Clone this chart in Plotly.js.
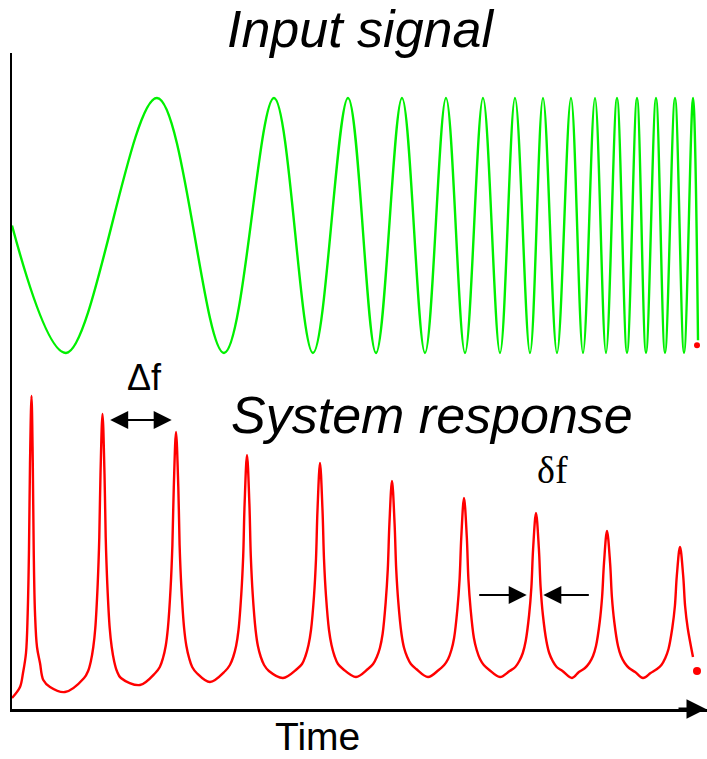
<!DOCTYPE html>
<html>
<head>
<meta charset="utf-8">
<script src="https://cdn.plot.ly/plotly-3.0.1.min.js"></script>
<style>html,body{margin:0;padding:0;background:#fff;}#chart{width:707px;height:759px;}</style>
</head>
<body>
<div id="chart"></div>
<script>
// ---- Input signal (chirp): extrema ----
var inputTime = [0, 5.4, 14.5, 21.2, 26.2, 30.1, 33.6, 36.4, 39.0, 41.3, 43.4, 45.3, 47.1, 48.8, 50.3, 51.8,
  53.1, 54.5, 55.9, 57.1, 58.3, 59.4, 60.5, 61.5, 62.5, 63.4, 64.4, 65.3, 66.3, 67.2, 68.1, 68.6];
var inputValue = [0, -1, 1, -1, 1, -1, 1, -1, 1, -1, 1, -1, 1, -1, 1, -1,
  1, -1, 1, -1, 1, -1, 1, -1, 1, -1, 1, -1, 1, -1, 1, -0.9];

// ---- System response: points ----
var responseTime = [
  0, 0.8, 1.1, 1.4, 1.57, 1.7, 1.8, 1.95, 2.08, 2.17, 2.3, 2.5, 2.8, 3.13, 3.8, 5.3,
  7.21, 7.61, 7.89, 8.13, 8.33, 8.57, 8.73, 8.85, 9.05, 9.25, 9.37, 9.53, 9.77, 9.97, 10.21, 10.49, 10.89, 12.8,
  14.33, 14.78, 15.1, 15.37, 15.59, 15.86, 16.04, 16.18, 16.4, 16.63, 16.76, 16.94, 17.21, 17.44, 17.71, 18.02, 18.47, 19.8,
  21.32, 21.79, 22.12, 22.41, 22.65, 22.93, 23.12, 23.26, 23.5, 23.74, 23.88, 24.07, 24.36, 24.59, 24.88, 25.21, 25.69, 27.1,
  28.5, 29.0, 29.35, 29.65, 29.9, 30.2, 30.4, 30.55, 30.8, 31.05, 31.2, 31.4, 31.7, 31.95, 32.25, 32.6, 33.1, 34.4,
  35.59, 36.11, 36.48, 36.79, 37.06, 37.37, 37.58, 37.74, 38.0, 38.26, 38.42, 38.63, 38.95, 39.21, 39.52, 39.89, 40.42, 41.6,
  42.67, 43.22, 43.61, 43.94, 44.21, 44.54, 44.76, 44.93, 45.2, 45.48, 45.64, 45.86, 46.19, 46.47, 46.8, 47.18, 47.73, 48.8,
  49.76, 50.33, 50.73, 51.08, 51.37, 51.71, 51.94, 52.11, 52.4, 52.69, 52.86, 53.09, 53.44, 53.72, 54.07, 54.47, 55.05, 56.0,
  56.69, 57.3, 57.73, 58.1, 58.4, 58.77, 59.01, 59.2, 59.5, 59.81, 59.99, 60.23, 60.6, 60.9, 61.27, 61.7, 62.31, 63.1,
  63.86, 64.5, 64.94, 65.33, 65.65, 66.03, 66.29, 66.48, 66.8, 67.12, 67.31, 67.57, 68.1];
var responseValue = [
  0.11, 0.22, 0.36, 0.56, 0.96, 1.6, 2.45, 3.13, 2.45, 1.6, 0.96, 0.62, 0.46, 0.29, 0.22, 0.17,
  0.31, 0.38, 0.48, 0.62, 0.81, 1.25, 1.72, 2.35, 2.95, 2.35, 1.72, 1.25, 0.81, 0.62, 0.48, 0.38, 0.31, 0.24,
  0.36, 0.42, 0.51, 0.63, 0.81, 1.21, 1.64, 2.22, 2.77, 2.22, 1.64, 1.21, 0.81, 0.63, 0.51, 0.42, 0.36, 0.27,
  0.38, 0.44, 0.52, 0.63, 0.79, 1.15, 1.53, 2.05, 2.54, 2.05, 1.53, 1.15, 0.79, 0.63, 0.52, 0.44, 0.38, 0.31,
  0.40, 0.45, 0.53, 0.64, 0.79, 1.13, 1.50, 1.99, 2.46, 1.99, 1.50, 1.13, 0.79, 0.64, 0.53, 0.45, 0.40, 0.32,
  0.40, 0.45, 0.52, 0.61, 0.75, 1.07, 1.40, 1.85, 2.28, 1.85, 1.40, 1.07, 0.75, 0.61, 0.52, 0.45, 0.40, 0.32,
  0.39, 0.44, 0.50, 0.59, 0.71, 1.00, 1.30, 1.72, 2.11, 1.72, 1.30, 1.00, 0.71, 0.59, 0.50, 0.44, 0.39, 0.32,
  0.38, 0.42, 0.48, 0.56, 0.68, 0.94, 1.22, 1.60, 1.96, 1.60, 1.22, 0.94, 0.68, 0.56, 0.48, 0.42, 0.38, 0.31,
  0.37, 0.41, 0.46, 0.53, 0.63, 0.87, 1.12, 1.46, 1.78, 1.46, 1.12, 0.87, 0.63, 0.53, 0.46, 0.41, 0.37, 0.31,
  0.36, 0.40, 0.44, 0.51, 0.60, 0.81, 1.03, 1.33, 1.62, 1.33, 1.03, 0.81, 0.52];

// ---- end dots ----
var endTime = [68.5];
var inputEnd = [-0.94];
var responseEnd = [0.38];

// ---- labels ----
var labelInput = 'Input signal';
var labelResponse = 'System response';
var labelTime = 'Time';
var labelDelta = '\u0394f';
var labelSmallDelta = '\u03B4f';

var sans = 'Liberation Sans, Arial, sans-serif';
var serif = 'Liberation Serif, Times New Roman, serif';

var traces = [
  {x: inputTime, y: inputValue, xaxis: 'x', yaxis: 'y2', mode: 'lines',
   line: {color: '#00f000', width: 2.4, shape: 'spline', smoothing: 1}, hoverinfo: 'skip'},
  {x: responseTime, y: responseValue, xaxis: 'x', yaxis: 'y', mode: 'lines',
   line: {color: '#ff0000', width: 2.4, shape: 'spline', smoothing: 1}, hoverinfo: 'skip'},
  {x: endTime, y: inputEnd, xaxis: 'x', yaxis: 'y2', mode: 'markers',
   marker: {color: '#ff0000', size: 6}, cliponaxis: false, hoverinfo: 'skip'},
  {x: endTime, y: responseEnd, xaxis: 'x', yaxis: 'y', mode: 'markers',
   marker: {color: '#ff0000', size: 8}, cliponaxis: false, hoverinfo: 'skip'}
];

var layout = {
  width: 707, height: 759,
  margin: {l: 12, r: 0, t: 53, b: 50, pad: 0},
  paper_bgcolor: '#ffffff', plot_bgcolor: '#ffffff',
  showlegend: false,
  xaxis: {range: [0, 69.5], showgrid: false, zeroline: false, showticklabels: false, ticks: '',
          showline: true, linecolor: '#000', linewidth: 3, anchor: 'y'},
  yaxis: {domain: [0, 0.5], range: [0, 3.28], showgrid: false, zeroline: false, showticklabels: false,
          ticks: '', showline: true, linecolor: '#000', linewidth: 2, anchor: 'x'},
  yaxis2: {domain: [0.5, 1], range: [-1.22, 1.353], showgrid: false, zeroline: false, showticklabels: false,
           ticks: '', showline: true, linecolor: '#000', linewidth: 2, anchor: 'x'},
  annotations: [
    {text: labelInput, xref: 'paper', yref: 'paper', x: 0.502, y: 1.036, xanchor: 'center', yanchor: 'middle',
     showarrow: false, font: {family: sans, size: 52, style: 'italic', color: '#000'}},
    {text: labelResponse, xref: 'paper', yref: 'paper', x: 0.604, y: 0.448, xanchor: 'center', yanchor: 'middle',
     showarrow: false, font: {family: sans, size: 52, style: 'italic', color: '#000'}},
    {text: labelTime, xref: 'paper', yref: 'paper', x: 0.4396, y: -0.0415, xanchor: 'center', yanchor: 'middle',
     showarrow: false, font: {family: sans, size: 39, color: '#000'}},
    {text: labelDelta, xref: 'paper', yref: 'paper', x: 0.19, y: 0.506, xanchor: 'center', yanchor: 'middle',
     showarrow: false, font: {family: sans, size: 36, color: '#000'}},
    {text: labelSmallDelta, xref: 'paper', yref: 'paper', x: 0.777, y: 0.364, xanchor: 'center', yanchor: 'middle',
     showarrow: false, font: {family: serif, size: 38, color: '#000'}},
    // Δf double arrow
    {text: '', xref: 'paper', yref: 'paper', x: 0.2298, y: 0.4405, ax: -63, ay: 0, axref: 'pixel', ayref: 'pixel',
     showarrow: true, arrowside: 'end+start', arrowhead: 2, startarrowhead: 2, arrowsize: 1.8, startarrowsize: 1.8,
     arrowwidth: 2, arrowcolor: '#000', standoff: 0, startstandoff: 0},
    // δf arrows
    {text: '', xref: 'paper', yref: 'paper', x: 0.7406, y: 0.1738, ax: -49, ay: 0, axref: 'pixel', ayref: 'pixel',
     showarrow: true, arrowhead: 2, arrowsize: 1.8, arrowwidth: 2, arrowcolor: '#000', standoff: 0},
    {text: '', xref: 'paper', yref: 'paper', x: 0.7645, y: 0.1738, ax: 47, ay: 0, axref: 'pixel', ayref: 'pixel',
     showarrow: true, arrowhead: 2, arrowsize: 1.8, arrowwidth: 2, arrowcolor: '#000', standoff: 0},
    // time axis arrow head
    {text: '', xref: 'paper', yref: 'paper', x: 1, y: 0, ax: -30, ay: 0, axref: 'pixel', ayref: 'pixel',
     showarrow: true, arrowhead: 2, arrowsize: 1.3, arrowwidth: 3, arrowcolor: '#000', standoff: 0}
  ]
};

Plotly.newPlot('chart', traces, layout, {staticPlot: true, displayModeBar: false});
</script>
</body>
</html>
